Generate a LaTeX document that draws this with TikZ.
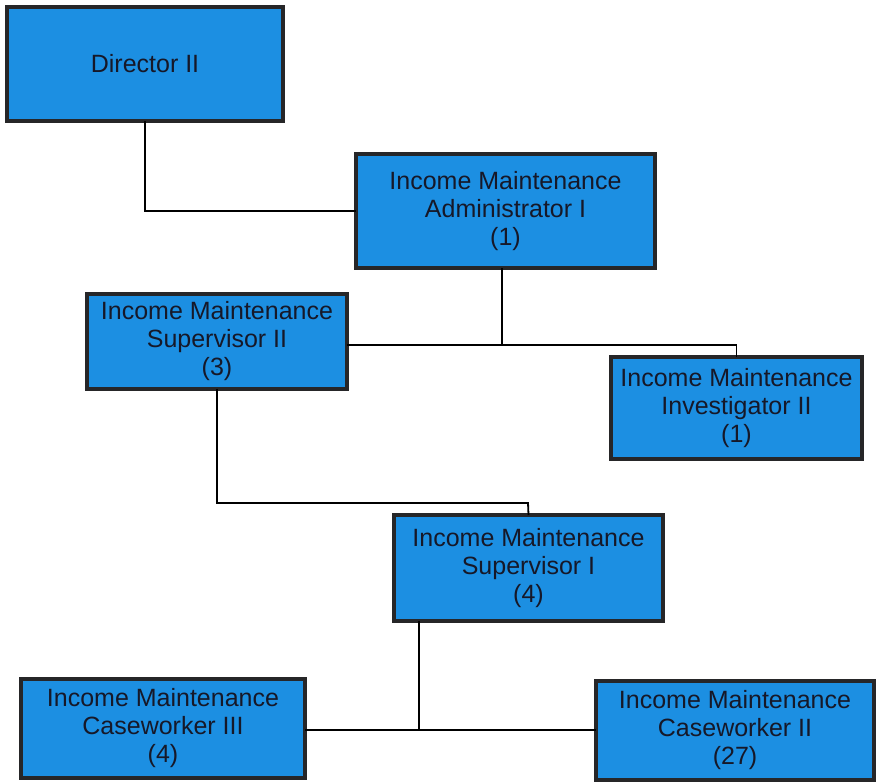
\documentclass[tikz,border=0pt]{standalone}
\usepackage{fontspec}
\setmainfont{Liberation Sans}
\definecolor{boxblue}{RGB}{28,143,226}
\definecolor{boxedge}{RGB}{38,38,40}
\definecolor{inktext}{RGB}{22,24,40}
\begin{document}
\begin{tikzpicture}[x=1pt,y=-1pt,
  orgbox/.style={draw=boxedge, line width=4.5pt, fill=boxblue, text=inktext,
    align=center, inner sep=0pt, outer sep=0pt,
    font=\fontsize{25}{28}\selectfont},
  link/.style={draw=black, line width=1.8pt}]
\useasboundingbox (0,0) rectangle (878,784);

% positions
\node[orgbox, minimum width=276, minimum height=114] (dir) at (145,64) {Director II};
\node[orgbox, minimum width=299, minimum height=114] (adm) at (505.5,211)
  {Income Maintenance\\Administrator I\\(1)};
\node[orgbox, minimum width=260, minimum height=95] (sup2) at (217,341.5)
  {Income Maintenance\\Supervisor II\\(3)};
\node[orgbox, minimum width=251, minimum height=102] (inv) at (736.5,408)
  {Income Maintenance\\Investigator II\\(1)};
\node[orgbox, minimum width=269, minimum height=106] (sup1) at (528.5,568)
  {Income Maintenance\\Supervisor I\\(4)};
\node[orgbox, minimum width=284, minimum height=99] (cw3) at (163,728.5)
  {Income Maintenance\\Caseworker III\\(4)};
\node[orgbox, minimum width=278, minimum height=99] (cw2) at (735,730.5)
  {Income Maintenance\\Caseworker II\\(27)};

% junction points
\coordinate (j1) at (502,345);
\coordinate (j2) at (528,503);
\coordinate (j3) at (419,730);

% connectors
\begin{scope}[on background layer/.try]
\draw[link] (dir.south) |- (adm.west);
\draw[link] (adm.south -| j1) -- (j1);
\draw[link] (sup2.east |- j1) -| (inv.north);
\draw[link] (sup2.south) |- (j2) -- (sup1.north);
\draw[link] (sup1.south -| j3) -- (j3);
\draw[link] (cw3.east |- j3) -- (cw2.west |- j3);
\end{scope}
\end{tikzpicture}
\end{document}
